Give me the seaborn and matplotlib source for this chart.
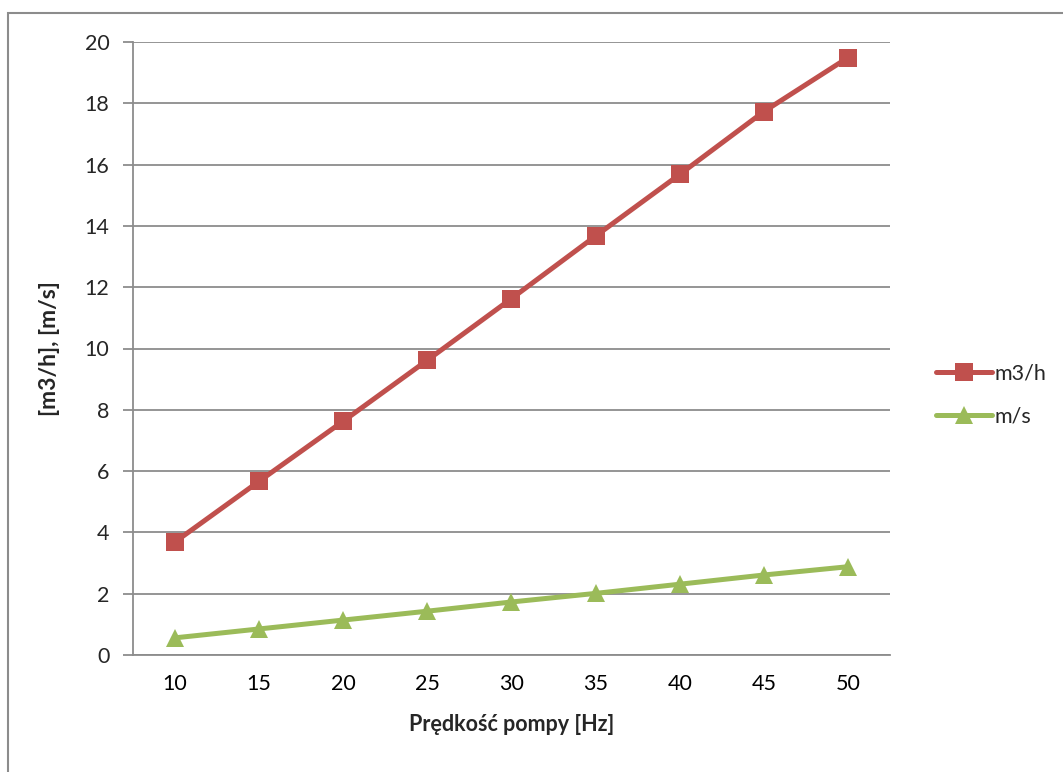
import matplotlib
matplotlib.use("Agg")
import matplotlib.pyplot as plt
from matplotlib.patches import Rectangle
from matplotlib.ticker import FixedLocator
import seaborn as sns
import pandas as pd

# dane
hz = ["10", "15", "20", "25", "30", "35", "40", "45", "50"]
m3h = [3.69, 5.67, 7.63, 9.62, 11.63, 13.67, 15.68, 17.73, 19.49]
ms = [0.56, 0.85, 1.14, 1.43, 1.73, 2.01, 2.31, 2.61, 2.88]
series = ["m3/h", "m/s"]

df = pd.DataFrame({
    "hz": hz * 2,
    "val": m3h + ms,
    "seria": [series[0]] * len(hz) + [series[1]] * len(hz),
})

sns.set_style("white")
plt.rcParams["font.family"] = ["Lato", "DejaVu Sans"]

fig = plt.figure(figsize=(10.63, 7.72), dpi=100)
ax = fig.add_axes([133 / 1063, 1 - 655 / 772, (890 - 133) / 1063, (655 - 42) / 772])

# ramka wykresu (Excel)
fig.patches.append(Rectangle((8 / 1063, -0.1), 1.2, 1 - 13 / 772 + 0.1,
                             transform=fig.transFigure, fill=False,
                             edgecolor="#8c8c8c", linewidth=1.5))

kolory = {"m3/h": "#C0504D", "m/s": "#9BBB59"}
sns.lineplot(data=df, x="hz", y="val", hue="seria", style="seria",
             palette=kolory, markers={"m3/h": "s", "m/s": "^"}, dashes=False,
             linewidth=3.6, markersize=12.5, markeredgewidth=0, ax=ax)

ax.set_xlim(-0.5, len(hz) - 0.5)
ax.set_ylim(0, 20)
ax.set_yticks(range(0, 21, 2))
ax.yaxis.grid(True, color="#8c8c8c", linewidth=1.3)
ax.set_axisbelow(True)
for s in ["top", "right"]:
    ax.spines[s].set_visible(False)
for s in ["left", "bottom"]:
    ax.spines[s].set_color("#8c8c8c")
    ax.spines[s].set_linewidth(1.3)

ax.xaxis.set_minor_locator(FixedLocator([i - 0.5 for i in range(len(hz) + 1)]))
ax.tick_params(axis="x", which="major", length=0, labelsize=15.5, pad=14, colors="black")
ax.tick_params(axis="x", which="minor", length=7, width=1.3, color="#8c8c8c", direction="out")
ax.tick_params(axis="y", length=7, width=1.3, color="#8c8c8c", direction="out",
               labelsize=15.5, pad=10, left=True)

ax.set_xlabel("Prędkość pompy [Hz]", fontsize=15.5, fontweight="bold", labelpad=14)
ax.set_ylabel("[m3/h], [m/s]", fontsize=16.5, fontweight="bold", labelpad=18)

leg = ax.legend(loc="center left", bbox_to_anchor=(917 / 1063, 1 - 395 / 772),
                bbox_transform=fig.transFigure, frameon=False, fontsize=15.5,
                handlelength=2.6, handletextpad=0.1, labelspacing=1.05)

fig.savefig("out.png", dpi=100, facecolor="white")
